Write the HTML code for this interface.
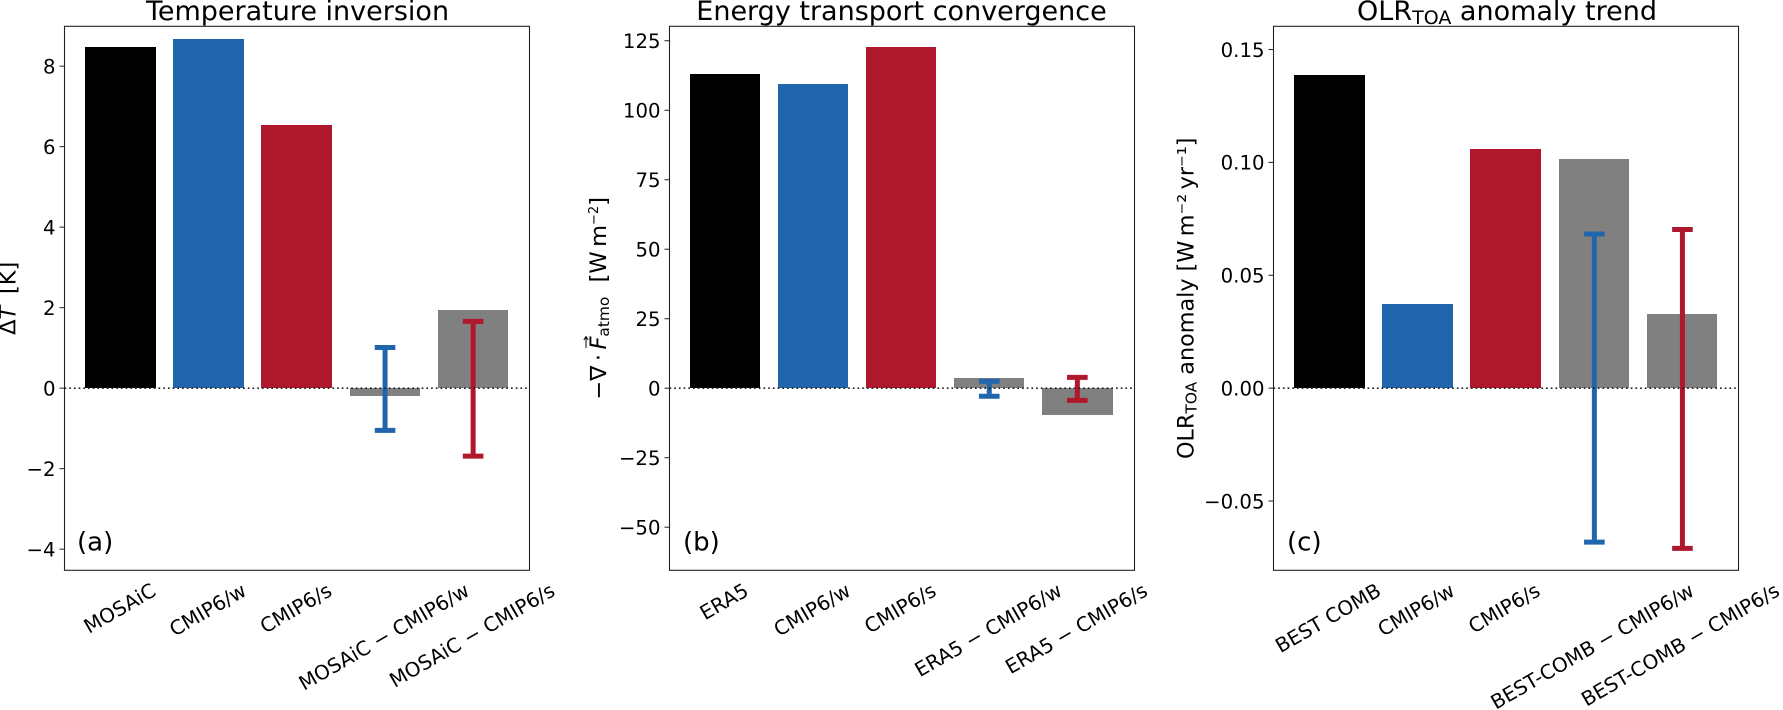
<!DOCTYPE html>
<html lang="en">
<head>
<meta charset="utf-8">
<title>Temperature inversion, energy transport convergence and OLR anomaly trend</title>
<style>
html,body{margin:0;padding:0;background:#fff;width:1783px;height:710px;overflow:hidden}
svg{display:block;font-family:"DejaVu Sans","Liberation Sans",sans-serif;fill:#000}
.title{font-size:27px;text-anchor:middle}
.ylab{font-size:22.5px;text-anchor:middle}
.tick{font-size:19.7px;text-anchor:end}
.xlab{font-size:19.9px;text-anchor:middle}
.plabel{font-size:26px}
</style>
</head>
<body>
<svg id="fig" xmlns="http://www.w3.org/2000/svg" width="1783" height="710" viewBox="0 0 1783 710">
<rect x="0" y="0" width="1783" height="710" fill="#fff"/>

<g id="panel-a"></g>
<g id="panel-b"></g>
<g id="panel-c"></g>

<text class="title" x="297.5" y="20">Temperature inversion</text>
<text class="title" x="901.5" y="20">Energy transport convergence</text>
<text class="title" x="1507" y="20">OLR<tspan font-size="19" dy="4">TOA</tspan><tspan dy="-4"> anomaly trend</tspan></text>

<text class="ylab" transform="translate(15.5,298.3) rotate(-90)">Δ<tspan font-style="italic">T</tspan>&#8201; [K]</text>
<text class="ylab" transform="translate(606,298.3) rotate(-90)">−∇&#8201;·&#8201;<tspan font-style="italic">F</tspan><tspan font-size="15.4" dy="3">atmo</tspan><tspan dy="-3" xml:space="preserve">  [W&#8201;m</tspan><tspan font-size="13" dy="-8">−2</tspan><tspan dy="8">]</tspan></text>
<path d="M586 348V337M583.8 340L586 336.6L588.2 340" fill="none" stroke="#000" stroke-width="1"/>
<text class="ylab" style="font-size:22.3px" transform="translate(1193.5,298.3) rotate(-90)">OLR<tspan font-size="15.4" dy="3">TOA</tspan><tspan dy="-3"> anomaly [W&#8201;m⁻²&#8201;yr⁻¹]</tspan></text>

<text class="plabel" x="77" y="550.5">(a)</text>
<text class="plabel" x="683" y="550.5">(b)</text>
<text class="plabel" x="1287" y="550.5">(c)</text>
</svg>

<script>
// Panel (a)
const categoriesA = ['MOSAiC', 'CMIP6/w', 'CMIP6/s', 'MOSAiC − CMIP6/w', 'MOSAiC − CMIP6/s'];
const valuesA = [8.48, 8.68, 6.54, -0.19, 1.94];
const errLowA = [null, null, null, -1.05, -1.69];
const errHighA = [null, null, null, 1.01, 1.66];
const yTicksA = [-4, -2, 0, 2, 4, 6, 8];
const yTickLabelsA = ['−4', '−2', '0', '2', '4', '6', '8'];
const yLimitsA = [-4.525, 8.99];

// Panel (b)
const categoriesB = ['ERA5', 'CMIP6/w', 'CMIP6/s', 'ERA5 − CMIP6/w', 'ERA5 − CMIP6/s'];
const valuesB = [113.1, 109.3, 122.7, 3.67, -9.6];
const errLowB = [null, null, null, -2.9, -4.35];
const errHighB = [null, null, null, 2.5, 3.9];
const yTicksB = [-50, -25, 0, 25, 50, 75, 100, 125];
const yTickLabelsB = ['−50', '−25', '0', '25', '50', '75', '100', '125'];
const yLimitsB = [-65.5, 130.2];

// Panel (c)
const categoriesC = ['BEST COMB', 'CMIP6/w', 'CMIP6/s', 'BEST-COMB − CMIP6/w', 'BEST-COMB − CMIP6/s'];
const valuesC = [0.1387, 0.0374, 0.106, 0.1016, 0.0329];
const errLowC = [null, null, null, -0.0682, -0.071];
const errHighC = [null, null, null, 0.0683, 0.0703];
const yTicksC = [-0.05, 0, 0.05, 0.10, 0.15];
const yTickLabelsC = ['−0.05', '0.00', '0.05', '0.10', '0.15'];
const yLimitsC = [-0.0807, 0.1603];

const SVG_NS = 'http://www.w3.org/2000/svg';
const barColors = ['#000000', '#2166ac', '#af182c', '#808080', '#808080'];
const errColors = [null, null, null, '#2166ac', '#af182c'];
const BAR_WIDTH = 0.8;
const X_MIN = -0.64;
const X_MAX = 4.64;
const ROTATION = 30;

function svgEl(tag) {
  return document.createElementNS(SVG_NS, tag);
}

function slug(s) {
  return s.toLowerCase().replace(/[^a-z0-9]+/g, '-').replace(/^-|-$/g, '');
}

function drawPanel(groupId, box, categories, values, errLow, errHigh, ticks, tickLabels, yLimits) {
  const g = document.getElementById(groupId);
  const xScale = function (v) {
    return box.left + (v - X_MIN) / (X_MAX - X_MIN) * (box.right - box.left);
  };
  const yScale = function (v) {
    return box.bottom - (v - yLimits[0]) / (yLimits[1] - yLimits[0]) * (box.bottom - box.top);
  };

  // bars
  values.forEach(function (v, i) {
    const x0 = Math.round(xScale(i - BAR_WIDTH / 2) + box.barShift);
    const x1 = Math.round(xScale(i + BAR_WIDTH / 2) + box.barShift);
    const y0 = Math.round(yScale(Math.max(v, 0)));
    const y1 = Math.round(yScale(Math.min(v, 0)));
    const bar = svgEl('rect');
    
    
    bar.setAttribute('x', x0);
    bar.setAttribute('y', y0);
    bar.setAttribute('width', x1 - x0);
    bar.setAttribute('height', y1 - y0);
    bar.setAttribute('fill', barColors[i]);
    bar.setAttribute('shape-rendering', 'crispEdges');
    g.appendChild(bar);
  });

  // error bars
  values.forEach(function (v, i) {
    if (errLow[i] === null || errHigh[i] === null) { return; }
    const cx = xScale(i) + box.errShift;
    const yHi = yScale(errHigh[i]);
    const yLo = yScale(errLow[i]);
    const path = svgEl('path');
    
    
    path.setAttribute('d',
      'M' + cx + ' ' + yHi + 'V' + yLo +
      'M' + (cx - 10.3) + ' ' + yHi + 'H' + (cx + 10.3) +
      'M' + (cx - 10.3) + ' ' + yLo + 'H' + (cx + 10.3));
    path.setAttribute('fill', 'none');
    path.setAttribute('stroke', errColors[i]);
    path.setAttribute('stroke-width', '5');
    g.appendChild(path);
  });

  // zero line
  const zero = svgEl('line');
  
  
  zero.setAttribute('x1', box.left);
  zero.setAttribute('x2', box.right - 2);
  zero.setAttribute('y1', yScale(0));
  zero.setAttribute('y2', yScale(0));
  zero.setAttribute('stroke', '#222');
  zero.setAttribute('stroke-width', '1.6');
  zero.setAttribute('stroke-dasharray', '1.7 3');
  g.appendChild(zero);

  // frame
  const frame = svgEl('rect');
  
  
  frame.setAttribute('x', box.left);
  frame.setAttribute('y', box.top);
  frame.setAttribute('width', box.right - box.left);
  frame.setAttribute('height', box.bottom - box.top);
  frame.setAttribute('fill', 'none');
  frame.setAttribute('stroke', '#222');
  frame.setAttribute('stroke-width', '1.1');
  g.appendChild(frame);

  // y ticks
  ticks.forEach(function (t, i) {
    const y = yScale(t);
    const tick = svgEl('line');
    
    
    tick.setAttribute('x1', box.left - 5);
    tick.setAttribute('x2', box.left);
    tick.setAttribute('y1', y);
    tick.setAttribute('y2', y);
    tick.setAttribute('stroke', '#222');
    tick.setAttribute('stroke-width', '1');
    g.appendChild(tick);

    const label = svgEl('text');
    
    
    label.setAttribute('class', 'tick');
    label.setAttribute('x', box.left - 9);
    label.setAttribute('y', y + 7.3);
    label.textContent = tickLabels[i];
    g.appendChild(label);
  });

  // rotated x tick labels
  categories.forEach(function (c, i) {
    const label = svgEl('text');
    
    
    label.setAttribute('class', 'xlab');
    label.textContent = c;
    g.appendChild(label);
    const w = label.getComputedTextLength();
    const capH = 14.5;
    const rad = ROTATION * Math.PI / 180;
    const h = w * Math.sin(rad) + capH * Math.cos(rad);
    const cx = xScale(i) + box.labelShift;
    const cy = 582 + h / 2;
    label.setAttribute('x', cx);
    label.setAttribute('y', cy + capH / 2);
    label.setAttribute('transform', 'rotate(' + (-ROTATION) + ' ' + cx + ' ' + cy + ')');
  });
}

drawPanel('panel-a', {left: 64.5, right: 529.5, top: 26.3, bottom: 570.3, barShift: -0.3, errShift: 0, labelShift: -1.3},
  categoriesA, valuesA, errLowA, errHighA, yTicksA, yTickLabelsA, yLimitsA);
drawPanel('panel-b', {left: 669.5, right: 1134.5, top: 26.3, bottom: 570.3, barShift: -0.8, errShift: -0.8, labelShift: -2},
  categoriesB, valuesB, errLowB, errHighB, yTicksB, yTickLabelsB, yLimitsB);
drawPanel('panel-c', {left: 1273.5, right: 1738.5, top: 26.3, bottom: 570.3, barShift: -0.3, errShift: 0.3, labelShift: -2},
  categoriesC, valuesC, errLowC, errHighC, yTicksC, yTickLabelsC, yLimitsC);
</script>
</body>
</html>
